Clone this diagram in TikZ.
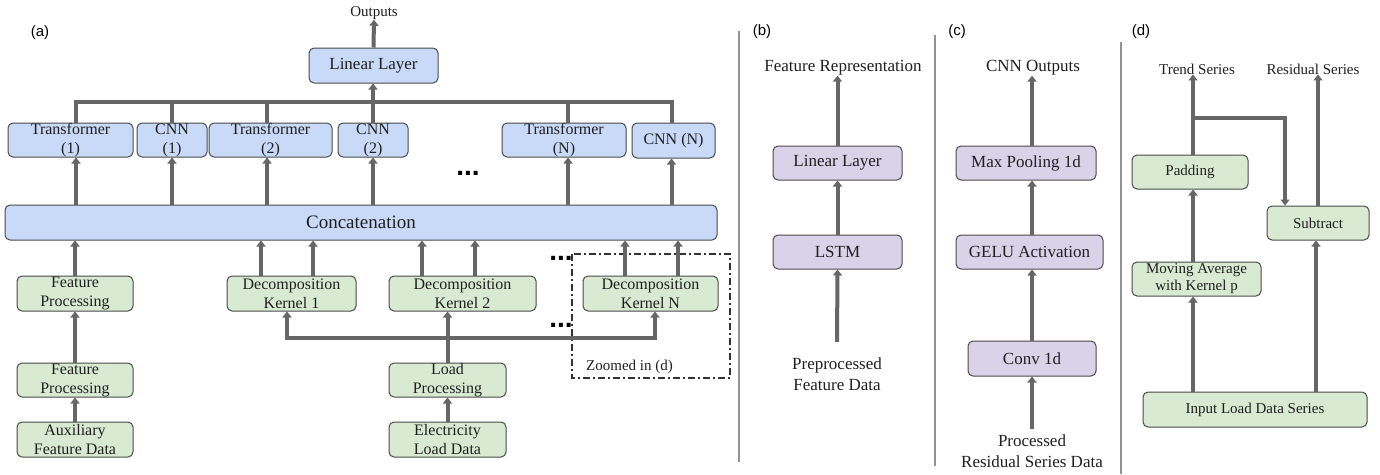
\documentclass[tikz,border=0pt]{standalone}
\usepackage{fontspec}
\setmainfont{Liberation Serif}
\setsansfont{Liberation Sans}
\usetikzlibrary{arrows.meta}

\definecolor{boxblue}{HTML}{C9DAF8}
\definecolor{boxgreen}{HTML}{D9EAD3}
\definecolor{boxpurple}{HTML}{D9D2E9}
\definecolor{edge}{HTML}{4A4A4A}
\definecolor{wire}{HTML}{666666}

\tikzset{
  box/.style={draw=edge, line width=1pt, rounded corners=5pt, inner sep=0pt,
              align=center, text=black!88, font=\fontsize{16}{19}\selectfont},
  tbox/.style={box, fill=boxblue},
  gbox/.style={box, fill=boxgreen},
  pbox/.style={box, fill=boxpurple},
  sz/.style 2 args={minimum width=#1pt, minimum height=#2pt},
  txt/.style={inner sep=0pt, align=center, text=black!88, font=\fontsize{17}{21}\selectfont},
  tag/.style={inner sep=0pt, font=\sffamily\fontsize{15}{15}\selectfont},
  dots/.style={inner sep=0pt, font=\sffamily\bfseries\fontsize{28}{28}\selectfont},
  flow/.style={draw=wire, line width=4pt, -{Triangle[width=9pt,length=6pt]}},
  wireline/.style={draw=wire, line width=4pt},
  sep/.style={draw=gray!85, line width=1.8pt},
}

\begin{document}
\begin{tikzpicture}[x=1pt, y=-1pt]
  \useasboundingbox (0,0) rectangle (1380,474);

  % (a)
  \node[tag] (taga) at (40,33) {(a)};
  \node[txt, font=\fontsize{15}{17}\selectfont] (out) at (374,13) {Outputs};
  \node[tbox, sz={129}{35}, font=\fontsize{17}{20}\selectfont] (lin) at (373.5,65.5) {Linear Layer};

  \node[tbox, sz={125}{34}] (tr1) at (70.5,140) {Transformer\\(1)};
  \node[tbox, sz={70}{34}] (cnn1) at (172,140) {CNN\\(1)};
  \node[tbox, sz={123}{34}] (tr2) at (270.5,140) {Transformer\\(2)};
  \node[tbox, sz={70}{34}] (cnn2) at (373,140) {CNN\\(2)};
  \node[dots] (gapa) at (468,173) {...};
  \node[tbox, sz={124}{34}] (trN) at (564,140) {Transformer\\(N)};
  \node[tbox, sz={83}{35}] (cnnN) at (673.5,140.5) {CNN (N)};

  \node[tbox, sz={712}{35}, font=\fontsize{19}{22}\selectfont] (concat) at (361,222.5) {Concatenation};

  \node[gbox, sz={116}{35}] (fp1) at (75,293.5) {Feature\\Processing};
  \node[gbox, sz={116}{34}] (fp2) at (75,380) {Feature\\Processing};
  \node[gbox, sz={116}{35}] (aux) at (75,439.5) {Auxiliary\\Feature Data};

  \node[gbox, sz={129}{35}] (k1) at (291.5,293.5) {Decomposition\\Kernel 1};
  \node[gbox, sz={147}{35}] (k2) at (462.5,293.5) {Decomposition\\Kernel 2};
  \node[gbox, sz={135}{35}] (kN) at (650.5,293.5) {Decomposition\\Kernel N};
  \node[gbox, sz={117}{34}] (lp) at (447.5,380) {Load\\Processing};
  \node[gbox, sz={117}{35}] (eld) at (447.5,439.5) {Electricity\\Load Data};

  \node[dots] (gapb) at (561,258) {...};
  \node[dots] (gapc) at (561,325) {...};
  \draw[draw=black!80, line width=1.3pt, dash pattern=on 7pt off 3pt on 2pt off 3pt]
    (572,254) rectangle (730,378);
  \node[txt, font=\fontsize{15}{17}\selectfont, anchor=west] (zoom) at (586,367) {Zoomed in (d)};

  \draw[flow] (lin.north) -- (out.south);
  \draw[flow] (cnn2.north) -- (cnn2.north |- lin.south);

  \coordinate (bus) at (373,102);
  \coordinate (t1) at ([xshift=5.5pt]tr1.north);
  \coordinate (t2) at ([xshift=-3.5pt]tr2.north);
  \coordinate (tn) at ([xshift=4pt]trN.north);
  \coordinate (cn) at ([xshift=-2pt]cnnN.north);
  \draw[wireline] (t1) |- (bus) -| (cn);
  \draw[wireline] (cnn1.north) -- (cnn1.north |- bus);
  \draw[wireline] (t2) -- (t2 |- bus);
  \draw[wireline] (tn) -- (tn |- bus);

  \draw[flow] (concat.north -| t1) -- (t1 |- tr1.south);
  \draw[flow] (concat.north -| cnn1) -- (cnn1.south);
  \draw[flow] (concat.north -| t2) -- (t2 |- tr2.south);
  \draw[flow] (concat.north -| cnn2) -- (cnn2.south);
  \draw[flow] (concat.north -| tn) -- (tn |- trN.south);
  \draw[flow] (concat.north -| cn) -- (cn |- cnnN.south);

  \draw[flow] (aux.north) -- (fp2.south);
  \draw[flow] (fp2.north) -- (fp1.south);
  \draw[flow] (fp1.north) -- (fp1.north |- concat.south);

  \coordinate (k1a) at ([xshift=-30.5pt]k1.north);
  \coordinate (k1b) at ([xshift=21.5pt]k1.north);
  \coordinate (k2a) at ([xshift=-40.5pt]k2.north);
  \coordinate (k2b) at ([xshift=12.5pt]k2.north);
  \coordinate (kNa) at ([xshift=-25.5pt]kN.north);
  \coordinate (kNb) at ([xshift=27.5pt]kN.north);
  \draw[flow] (k1a) -- (k1a |- concat.south);
  \draw[flow] (k1b) -- (k1b |- concat.south);
  \draw[flow] (k2a) -- (k2a |- concat.south);
  \draw[flow] (k2b) -- (k2b |- concat.south);
  \draw[flow] (kNa) -- (kNa |- concat.south);
  \draw[flow] (kNb) -- (kNb |- concat.south);

  \draw[flow] (eld.north) -- (lp.south);
  \draw[flow] (lp.north) -- (lp.north |- k2.south);
  \coordinate (split) at (447.5,338);
  \draw[flow] (split) -| ([xshift=-4.5pt]k1.south);
  \draw[flow] (split) -| ([xshift=4.5pt]kN.south);

  \draw[sep] (739,31) -- (739,462);

  % (b)
  \node[tag] (tagb) at (762,32) {(b)};
  \node[txt] (feat) at (843,68) {Feature Representation};
  \node[pbox, sz={129}{34}, font=\fontsize{17}{20}\selectfont] (linb) at (837.5,163) {Linear Layer};
  \node[pbox, sz={129}{34}, font=\fontsize{17}{20}\selectfont] (lstm) at (837.5,252) {LSTM};
  \node[txt] (pre) at (837,374.5) {Preprocessed\\Feature Data};

  \draw[flow] ([yshift=16pt]pre.north) -- (lstm.south);
  \draw[flow] (lstm.north) -- (linb.south);
  \draw[flow] (linb.north) -- (linb.north |- feat.south);

  \draw[sep] (935,35) -- (935,466);

  % (c)
  \node[tag] (tagc) at (957,32) {(c)};
  \node[txt] (cnnout) at (1033,68) {CNN Outputs};
  \node[pbox, sz={140}{34}, font=\fontsize{17}{20}\selectfont] (pool) at (1026,163) {Max Pooling 1d};
  \node[pbox, sz={147}{34}, font=\fontsize{17}{20}\selectfont] (gelu) at (1029.5,252) {GELU Activation};
  \node[pbox, sz={128}{35}, font=\fontsize{17}{20}\selectfont] (conv) at (1032,358.5) {Conv 1d};
  \node[txt] (res) at (1032,451.5) {Processed\\Residual Series Data};

  \draw[flow] ([yshift=6pt]res.north) -- (conv.south);
  \draw[flow] (conv.north) -- (conv.north |- gelu.south);
  \draw[flow] (conv.north |- gelu.north) -- (conv.north |- pool.south);
  \draw[flow] (conv.north |- pool.north) -- (conv.north |- cnnout.south);

  \draw[sep] (1121,42) -- (1121,474);

  % (d)
  \node[tag] (tagd) at (1141,32) {(d)};
  \node[txt, font=\fontsize{15}{17}\selectfont] (trend) at (1197,69) {Trend Series};
  \node[txt, font=\fontsize{15}{17}\selectfont] (resid) at (1313,69) {Residual Series};
  \node[gbox, sz={116}{34}, font=\fontsize{15}{17}\selectfont] (pad) at (1190,172) {Padding};
  \node[gbox, sz={102}{34}, font=\fontsize{15}{17}\selectfont] (sub) at (1318,223) {Subtract};
  \node[gbox, sz={129}{34}, font=\fontsize{15}{17}\selectfont] (mavg) at (1196.5,279) {Moving Average\\with Kernel p};
  \node[gbox, sz={224}{35}, font=\fontsize{15}{17}\selectfont] (inp) at (1255,409.5) {Input Load Data Series};

  \coordinate (ia) at ([xshift=-62pt]inp.north);
  \coordinate (ib) at ([xshift=61pt]inp.north);
  \coordinate (pt) at ([xshift=3pt]pad.north);
  \draw[flow] (ia) -- (ia |- mavg.south);
  \draw[flow] (ib) -- (ib |- sub.south);
  \draw[flow] (ia |- mavg.north) -- (ia |- pad.south);
  \draw[flow] (pt) -- (pt |- trend.south);
  \coordinate (tap) at (1193,118);
  \draw[flow] (tap) -| ([xshift=-33pt]sub.north);
  \draw[flow] (sub.north) -- (sub.north |- resid.south);
\end{tikzpicture}
\end{document}
